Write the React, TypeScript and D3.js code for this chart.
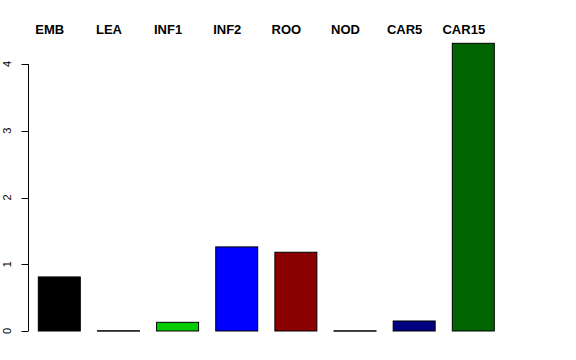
import React from "react";
import * as d3 from "d3";

const categories = ["EMB", "LEA", "INF1", "INF2", "ROO", "NOD", "CAR5", "CAR15"];
const values = [0.81, 0.005, 0.13, 1.26, 1.18, 0.004, 0.15, 4.31];
const colors = ["#000000", "#FFFFFF", "#00CD00", "#0000FF", "#8B0000", "#FFFFFF", "#000080", "#006400"];
const yTicks = [0, 1, 2, 3, 4];

const W = 576;
const H = 360;

export default function App() {
  const x = d3
    .scaleBand<string>()
    .domain(categories)
    .range([38.3, 494.3])
    .paddingInner(0.29)
    .paddingOuter(0);
  const y = d3.scaleLinear().domain([0, 4]).range([331, 64]);
  const axisX = 28.5;
  return (
    <svg
      width={W}
      height={H}
      style={{ position: "absolute", left: 0, top: 0, background: "#fff" }}
      fontFamily="'Liberation Sans', Arial, sans-serif"
    >
      {categories.map((c, i) => {
        const x0 = x(c)!;
        const top = y(values[i]);
        return (
          <g key={c}>
            <rect
              x={x0}
              y={top}
              width={x.bandwidth()}
              height={Math.max(y(0) - top, 0.5)}
              fill={colors[i]}
              stroke="#000"
              strokeWidth={1}
            />
            <text
              x={x0 + x.bandwidth() / 2 - 9.5}
              y={33.5}
              textAnchor="middle"
              fontSize={13}
              fontWeight="bold"
              fill="#000"
            >
              {c}
            </text>
          </g>
        );
      })}
      <line x1={axisX} x2={axisX} y1={y(0)} y2={y(4)} stroke="#000" strokeWidth={1} />
      {yTicks.map((t) => (
        <g key={t}>
          <line x1={axisX} x2={axisX - 7} y1={Math.round(y(t)) + 0.5} y2={Math.round(y(t)) + 0.5} stroke="#000" />
          <text
            transform={`translate(10.5,${y(t)}) rotate(-90)`}
            textAnchor="middle"
            fontSize={11}
            fill="#000"
          >
            {t}
          </text>
        </g>
      ))}
    </svg>
  );
}
